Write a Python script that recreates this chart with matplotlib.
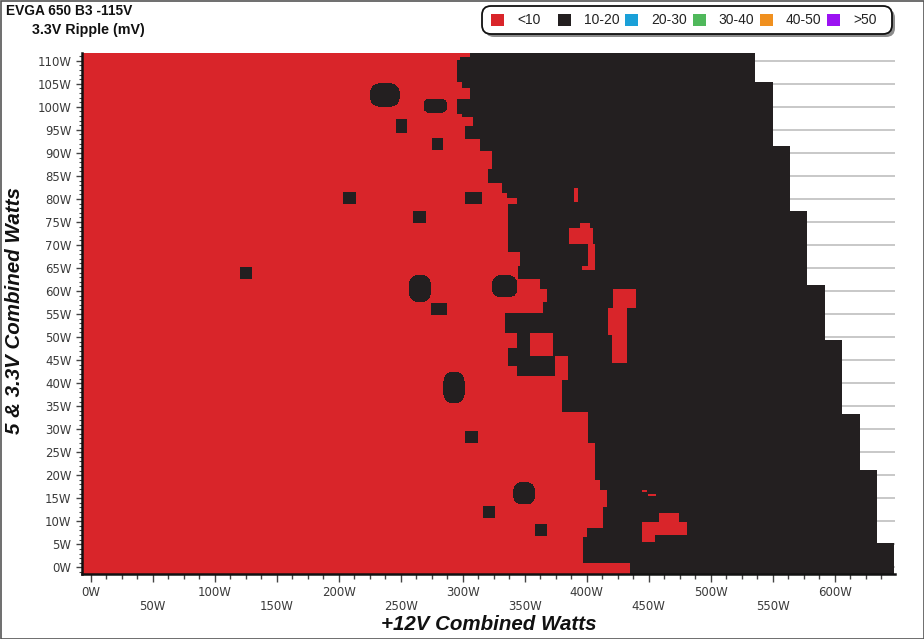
import numpy as np
import matplotlib
matplotlib.use("Agg")
import matplotlib.pyplot as plt
from matplotlib.patches import FancyBboxPatch, Rectangle
from matplotlib.ticker import FixedLocator, MultipleLocator

# ---------------- text ----------------
title = "EVGA 650 B3 -115V"
subtitle = "3.3V Ripple (mV)"
x_label = "+12V Combined Watts"
y_label = "5 & 3.3V Combined Watts"
legend_labels = ["<10", "10-20", "20-30", "30-40", "40-50", ">50"]
legend_colors = ["#d9252a", "#231f20", "#1aa0d8", "#4fb85b", "#f0901f", "#9b12f2"]

x_ticks = [0, 50, 100, 150, 200, 250, 300, 350, 400, 450, 500, 550, 600]
x_tick_labels = ["0W", "\n50W", "100W", "\n150W", "200W", "\n250W", "300W",
                 "\n350W", "400W", "\n450W", "500W", "\n550W", "600W"]
y_ticks = [0, 5, 10, 15, 20, 25, 30, 35, 40, 45, 50, 55, 60, 65, 70, 75, 80,
           85, 90, 95, 100, 105, 110]
y_tick_labels = ["0W", "5W", "10W", "15W", "20W", "25W", "30W", "35W", "40W",
                 "45W", "50W", "55W", "60W", "65W", "70W", "75W", "80W", "85W",
                 "90W", "95W", "100W", "105W", "110W"]

# ---------------- data (watts) ----------------
# tested region: max +12V load per band of 5&3.3V load
max_band_edges = [-1.4, 5.3, 21.3, 33.3, 49.4, 61.5, 77.4, 91.5, 105.6, 111.7]
max_12v = [647.8, 634.1, 620.4, 605.9, 592.2, 577.7, 563.9, 550.2, 535.7]

# ripple < 10 mV (red) up to this +12V load, per band of 5&3.3V load
band_edges = [-1.4, 0.9, 6.6, 8.5, 13.1, 16.8, 19.0, 27.0, 33.7, 40.7, 46.0,
              50.9, 55.4, 57.6, 60.6, 62.8, 65.6, 68.5, 79.1, 80.2, 81.3, 83.5,
              86.7, 90.6, 93.2, 96.0, 97.8, 98.6, 101.9, 104.1, 105.4, 110.2,
              111.0, 111.7]
red_limit_12v = [434.9, 397.0, 400.2, 413.2, 416.4, 410.7, 406.7, 401.0, 380.1,
                 384.9, 372.8, 334.1, 364.8, 368.0, 362.3, 344.6, 346.2, 336.5,
                 343.8, 335.7, 331.7, 320.4, 323.6, 314.0, 302.0, 308.3, 299.4,
                 295.4, 305.9, 299.4, 295.4, 297.8, 305.9]

# isolated 10-20 mV spots: (12V from, 12V to, 5V from, 5V to, rounded)
black_spots = [
    (225.2, 249.4, 100.0, 105.2, True),
    (268.5, 287.3, 98.6, 101.9, True),
    (246.2, 255.1, 94.5, 97.5, False),
    (275.2, 284.1, 90.8, 93.3, False),
    (203.5, 213.9, 78.9, 81.5, False),
    (302.0, 315.6, 79.1, 81.5, False),
    (259.9, 270.4, 74.8, 77.4, False),
    (120.4, 130.1, 62.6, 65.2, False),
    (256.7, 274.4, 57.7, 63.5, True),
    (323.6, 343.8, 58.6, 63.5, True),
    (274.4, 287.3, 54.8, 57.4, False),
    (343.8, 354.3, 47.8, 50.9, False),
    (336.5, 354.3, 45.9, 47.8, False),
    (336.5, 374.4, 43.9, 45.9, False),
    (343.8, 374.4, 41.6, 43.9, False),
    (284.1, 301.9, 35.7, 42.4, True),
    (302.0, 312.5, 27.0, 29.6, False),
    (340.6, 358.3, 13.7, 18.5, True),
    (316.4, 326.1, 10.7, 13.3, False),
    (358.3, 368.0, 6.8, 9.4, False),
]

# isolated < 10 mV spots inside the 10-20 mV area
red_spots = [
    (354.3, 372.8, 45.9, 50.9, False),
    (389.8, 393.0, 79.5, 82.5, False),
    (394.6, 402.6, 73.7, 74.8, False),
    (385.8, 405.1, 70.4, 73.7, False),
    (401.0, 406.7, 64.6, 70.4, False),
    (396.2, 406.7, 64.6, 65.6, False),
    (421.2, 439.5, 56.5, 60.6, False),
    (417.3, 432.5, 50.5, 56.5, False),
    (420.4, 432.5, 44.4, 50.5, False),
    (444.8, 448.9, 16.4, 16.8, False),
    (449.6, 456.1, 15.5, 15.9, False),
    (458.3, 474.5, 9.8, 11.8, False),
    (444.4, 481.0, 7.0, 9.8, False),
    (444.4, 455.0, 5.5, 7.0, False),
]

X_MIN, X_MAX = -7.0, 648.6
Y_MIN, Y_MAX = -1.45, 111.7

# ---------------- build category grid ----------------
dx, dy = 0.4, 0.1
xs = np.arange(X_MIN, X_MAX, dx) + dx / 2
ys = np.arange(Y_MIN, Y_MAX, dy) + dy / 2
X, Y = np.meshgrid(xs, ys)
cat = np.full(X.shape, -1, dtype=int)

for y0, y1, xm in zip(max_band_edges[:-1], max_band_edges[1:], max_12v):
    cat[(Y >= y0) & (Y < y1) & (X < xm)] = 1
for y0, y1, xr in zip(band_edges[:-1], band_edges[1:], red_limit_12v):
    cat[(Y >= y0) & (Y < y1) & (X < xr)] = 0


def spot_mask(x0, x1, y0, y1, rounded):
    if not rounded:
        return (X >= x0) & (X < x1) & (Y >= y0) & (Y < y1)
    cx, cy = (x0 + x1) / 2, (y0 + y1) / 2
    rx, ry = (x1 - x0) / 2, (y1 - y0) / 2
    return (np.abs((X - cx) / rx) ** 3 + np.abs((Y - cy) / ry) ** 3) <= 1.0


inside = cat >= 0
for s in black_spots:
    cat[spot_mask(*s) & inside] = 1
for s in red_spots:
    cat[spot_mask(*s) & inside] = 0

rgba = np.zeros(cat.shape + (4,))
for k in (0, 1):
    rgba[cat == k] = matplotlib.colors.to_rgba(legend_colors[k])

# ---------------- figure ----------------
W, H = 924, 639
fig = plt.figure(figsize=(W / 100, H / 100), dpi=100)
fig.patch.set_facecolor("white")

ax = fig.add_axes([82 / W, 1 - 574 / H, (895 - 82) / W, (574 - 53) / H])
ax.set_xlim(X_MIN, X_MAX)
ax.set_ylim(Y_MIN, Y_MAX)
ax.imshow(rgba, extent=[X_MIN, X_MAX, Y_MIN, Y_MAX], origin="lower",
          aspect="auto", interpolation="nearest", zorder=2)

ax.set_axisbelow(True)
ax.yaxis.grid(True, color="#c4c4c4", linewidth=1.3, zorder=0.5)
ax.xaxis.grid(False)

for side in ("top", "right"):
    ax.spines[side].set_visible(False)
for side in ("left", "bottom"):
    ax.spines[side].set_linewidth(1.8)
    ax.spines[side].set_color("#111111")
    ax.spines[side].set_zorder(3)

tick_font = dict(family="DejaVu Sans", size=8.5)
ax.xaxis.set_major_locator(FixedLocator(x_ticks))
ax.set_xticklabels(x_tick_labels, color="#3a3a3a", linespacing=1.05, **tick_font)
ax.xaxis.set_minor_locator(MultipleLocator(12.5))
ax.yaxis.set_major_locator(FixedLocator(y_ticks))
ax.set_yticklabels(y_tick_labels, color="#3a3a3a", **tick_font)
ax.yaxis.set_minor_locator(MultipleLocator(1))
ax.tick_params(axis="x", which="major", direction="out", length=6, width=1,
               color="#444444", pad=3)
ax.tick_params(axis="x", which="minor", direction="out", length=3.5, width=1,
               color="#444444")
ax.tick_params(axis="y", which="major", direction="out", length=4.5, width=1,
               color="#444444", pad=3)
ax.tick_params(axis="y", which="minor", direction="out", length=2.2, width=0.8,
               color="#444444")

lab_font = dict(family="Liberation Sans", size=14.8, weight="bold", style="italic",
                color="#111111")
ax.set_xlabel(x_label, **lab_font)
ax.xaxis.set_label_coords(0.5, (574 - 625) / (574 - 53))
ax.xaxis.label.set_va("center")
ax.set_ylabel(y_label, **lab_font)
ax.yaxis.set_label_coords((15 - 82) / (895 - 82), (574 - 311) / (574 - 53))
ax.yaxis.label.set_va("center")

# ---------------- overlay in pixel units (titles, legend, frame) ----------------
ov = fig.add_axes([0, 0, 1, 1], zorder=10)
ov.set_xlim(0, W)
ov.set_ylim(H, 0)
ov.axis("off")
ov.patch.set_alpha(0)

ov.add_patch(Rectangle((0.5, 0.5), W - 1, H - 1, fill=False,
                       edgecolor="#555555", linewidth=1.2))

ov.text(6, 11, title, family="Liberation Sans", size=9.9, weight="bold",
        ha="left", va="center", color="#111111")
ov.text(32, 30, subtitle, family="Liberation Sans", size=10.3, weight="bold",
        ha="left", va="center", color="#111111")

# legend
lx0, ly0, lw, lh = 482, 6, 410, 28
ov.add_patch(FancyBboxPatch((lx0 + 3, ly0 + 3), lw, lh,
                            boxstyle="round,pad=0,rounding_size=9",
                            facecolor="#8c8c8c", edgecolor="none"))
ov.add_patch(FancyBboxPatch((lx0, ly0), lw, lh,
                            boxstyle="round,pad=0,rounding_size=9",
                            facecolor="white", edgecolor="#111111", linewidth=1.3))
pitch = 67.2
for i, (lab, col) in enumerate(zip(legend_labels, legend_colors)):
    sx = 491 + i * pitch
    ov.add_patch(Rectangle((sx, 13.5), 13, 12, facecolor=col, edgecolor="none"))
    ov.text(sx + 26, 20.5, lab, family="Liberation Sans", size=10,
            ha="left", va="center", color="#222222")

fig.savefig("out.png", dpi=100)
